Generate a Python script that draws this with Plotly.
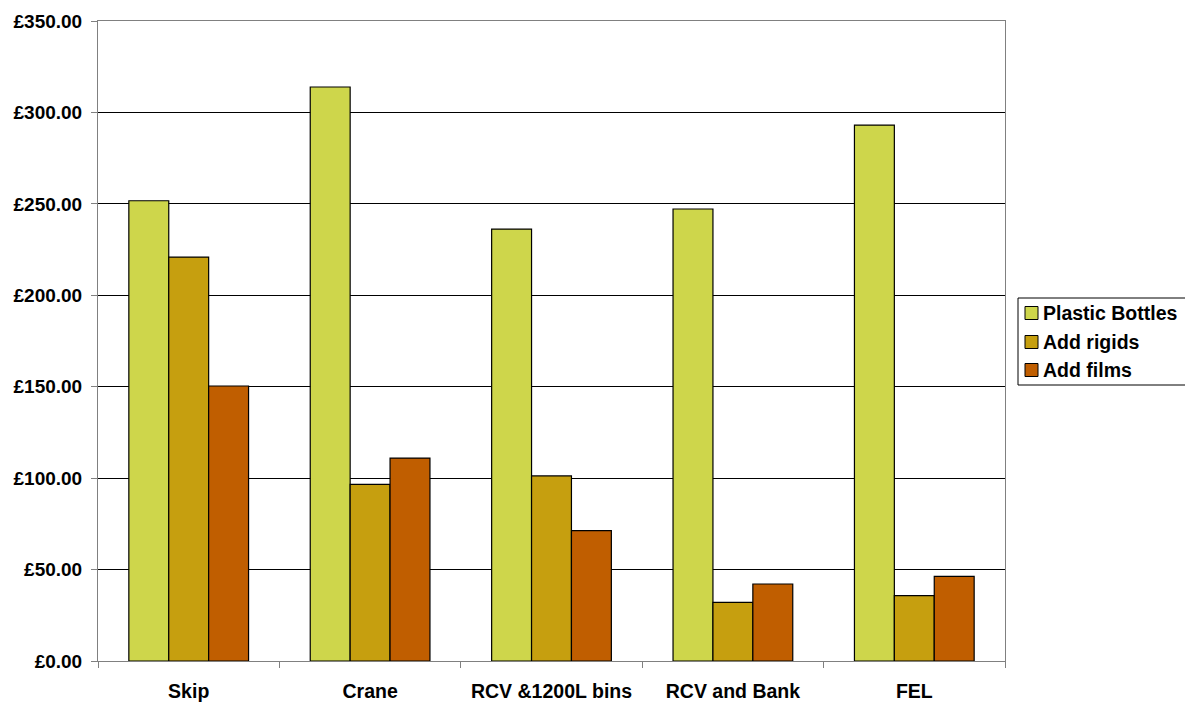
import plotly.graph_objects as go

categories = ["Skip", "Crane", "RCV &1200L bins", "RCV and Bank", "FEL"]
plastic_bottles = [251.7, 313.9, 236.2, 247.2, 293.1]
add_rigids = [220.9, 96.6, 101.2, 32.1, 35.7]
add_films = [150.4, 111.0, 71.3, 42.1, 46.3]

series_names = ["Plastic Bottles", "Add rigids", "Add films"]
series_values = [plastic_bottles, add_rigids, add_films]
series_colors = ["#CED64B", "#C69F0F", "#C05E00"]

font_family = "Liberation Sans, Arial, sans-serif"

W, H = 1185, 702
L, R, T, B = 98, 180, 21, 41
plot_w = W - L - R
plot_h = H - T - B


def px_x(px):
    return (px - L) / plot_w


def px_y(py):
    return (H - B - py) / plot_h


fig = go.Figure()
for name, values, color in zip(series_names, series_values, series_colors):
    fig.add_trace(go.Bar(
        x=categories, y=values, name=name,
        marker=dict(color=color, line=dict(color="#000000", width=1.2)),
    ))

# Legend box drawn on the paper, to the right of the plot area
shapes = [dict(
    type="rect", xref="paper", yref="paper",
    x0=px_x(1018), x1=px_x(1190), y0=px_y(385), y1=px_y(298),
    line=dict(color="#000000", width=1), fillcolor="white", layer="above",
)]
annotations = []
row_centers = [313, 342, 370]
for name, color, cy in zip(series_names, series_colors, row_centers):
    shapes.append(dict(
        type="rect", xref="paper", yref="paper",
        x0=px_x(1025), x1=px_x(1038), y0=px_y(cy + 6.5), y1=px_y(cy - 6.5),
        line=dict(color="#000000", width=1), fillcolor=color, layer="above",
    ))
    annotations.append(dict(
        xref="paper", yref="paper", x=px_x(1041), y=px_y(cy),
        xanchor="left", yanchor="middle", showarrow=False, text=name,
        font=dict(family=font_family, size=19.5, color="#000000", weight="bold"),
    ))

fig.update_layout(
    width=W, height=H,
    margin=dict(l=L, r=R, t=T, b=B),
    paper_bgcolor="white", plot_bgcolor="white",
    barmode="group", bargap=0.34, bargroupgap=0,
    font=dict(family=font_family, size=19, color="#000000"),
    showlegend=False,
    shapes=shapes,
    annotations=annotations,
)

fig.update_xaxes(
    type="category", automargin=False,
    showline=True, linecolor="#808080", linewidth=1, mirror=True,
    ticks="outside", ticklen=6, tickcolor="#808080", tickson="boundaries",
    tickfont=dict(family=font_family, size=19.5, color="#000000", weight="bold"),
    ticklabelstandoff=13,
    showgrid=False,
)

fig.update_yaxes(
    range=[0, 350], dtick=50, tick0=0, automargin=False,
    tickprefix="£", tickformat=",.2f",
    showline=True, linecolor="#808080", linewidth=1, mirror=True,
    ticks="outside", ticklen=6, tickcolor="#808080",
    showgrid=True, gridcolor="#000000", gridwidth=1,
    zeroline=False,
    ticklabelstandoff=5,
    tickfont=dict(family=font_family, size=19, color="#000000", weight="bold"),
)

fig.write_html("out.html")
